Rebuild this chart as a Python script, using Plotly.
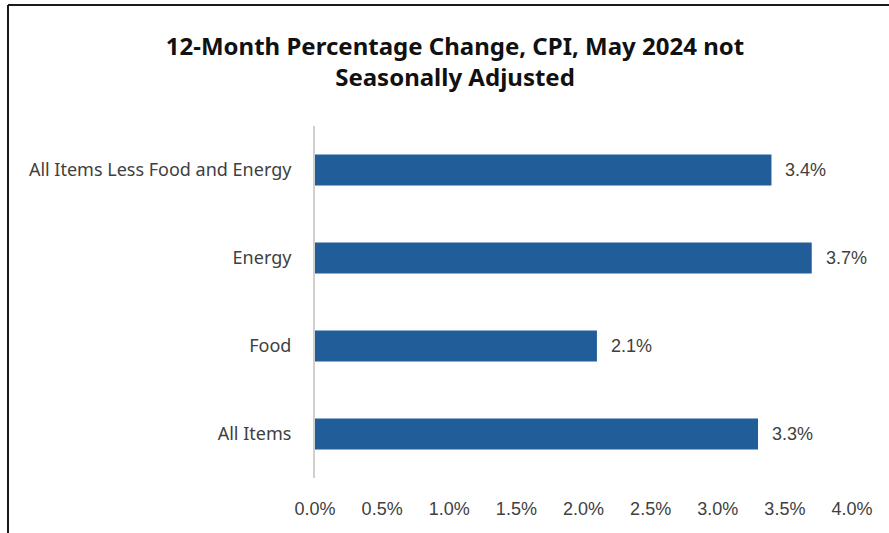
import plotly.graph_objs as go

# CPI categories, bottom to top as drawn
categories = ["All Items", "Food", "Energy", "All Items Less Food and Energy"]
pct_change = [3.3, 2.1, 3.7, 3.4]
x_ticks = [0, 0.5, 1.0, 1.5, 2.0, 2.5, 3.0, 3.5, 4.0]
x_tick_labels = ["0.0%", "0.5%", "1.0%", "1.5%", "2.0%", "2.5%", "3.0%", "3.5%", "4.0%"]

W, H = 889, 533
ML, MR, MT, MB = 315, 37, 126, 55
pw, ph = W - ML - MR, H - MT - MB


def px_x(p):
    return (p - ML) / pw


def px_y(p):
    return (H - MB - p) / ph


bar_color = "#215E99"
text_color = "#404040"

fig = go.Figure(go.Bar(
    x=pct_change, y=categories, orientation="h",
    marker=dict(color=bar_color, line=dict(width=0)),
    width=0.35, hoverinfo="skip",
))

# value labels just past the bar ends
for v, c in zip(pct_change, categories):
    fig.add_annotation(x=v, y=c, text=f"{v:.1f}%", showarrow=False,
                       xanchor="left", xshift=12,
                       font=dict(family="Liberation Sans, Arial", size=18, color=text_color))

# chart border (left and top edges visible in the crop)
fig.add_shape(type="line", xref="paper", yref="paper",
              x0=px_x(8), x1=px_x(8), y0=px_y(5), y1=px_y(H + 5),
              line=dict(color="#1a1a1a", width=2))
fig.add_shape(type="line", xref="paper", yref="paper",
              x0=px_x(8), x1=px_x(W + 5), y0=px_y(5), y1=px_y(5),
              line=dict(color="#1a1a1a", width=2))

fig.update_layout(
    width=W, height=H,
    margin=dict(l=ML, r=MR, t=MT, b=MB),
    paper_bgcolor="white", plot_bgcolor="white",
    showlegend=False,
    title=dict(text="12-Month Percentage Change, CPI, May 2024 not<br>Seasonally Adjusted",
               x=455 / W, xanchor="center", y=1 - 55 / H, yanchor="middle",
               font=dict(family="Noto Sans, Open Sans", size=24, color="#111111", weight="bold")),
    xaxis=dict(range=[0, 4], tickvals=x_ticks, ticktext=x_tick_labels,
               showgrid=False, zeroline=False, showline=False, automargin=False,
               ticks="outside", ticklen=14, tickcolor="rgba(0,0,0,0)",
               tickfont=dict(family="Liberation Sans, Arial", size=18, color=text_color)),
    yaxis=dict(range=[-0.5, 3.5], showgrid=False, zeroline=False, automargin=False,
               showline=True, linecolor="#d0d0d0", linewidth=2,
               ticks="outside", ticklen=18, tickcolor="rgba(0,0,0,0)",
               tickfont=dict(family="Noto Sans, Liberation Sans", size=18, color=text_color)),
)

fig.write_html("out.html", config={"displayModeBar": False},
               post_script="document.body.style.margin='0';")
